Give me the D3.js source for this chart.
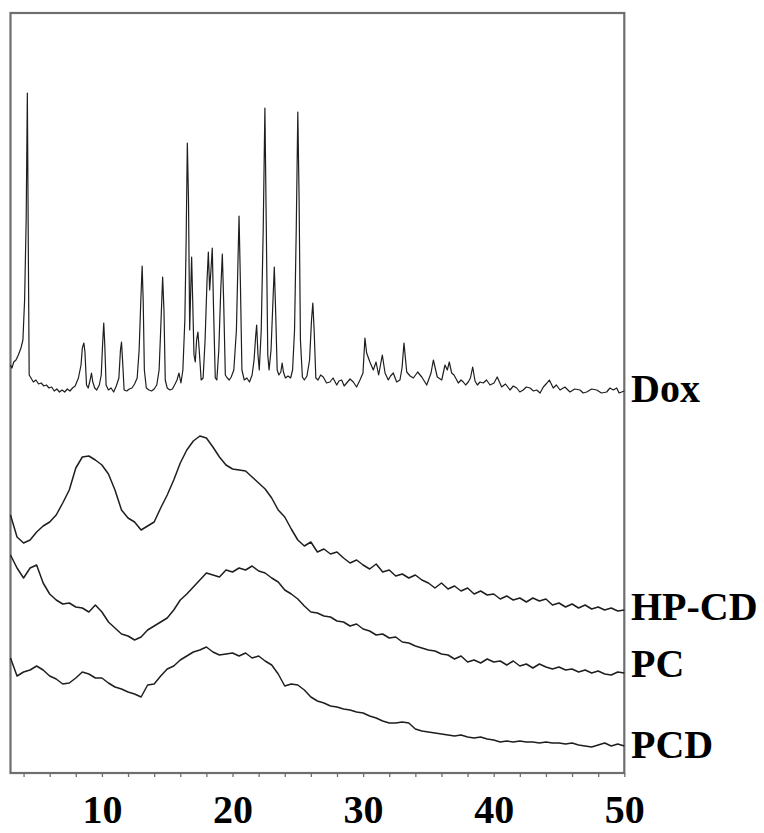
<!DOCTYPE html>
<html>
<head>
<meta charset="utf-8">
<script src="https://cdn.jsdelivr.net/npm/d3@7"></script>
<style>
  html, body { margin: 0; padding: 0; background: #fff; }
  svg { display: block; }
</style>
</head>
<body>
<svg id="chart" width="764" height="833"></svg>
<script>
// ---------------- DATA ----------------
// 2θ (degrees) grid for the amorphous patterns
const twoTheta = [
  3.0,3.5,4.0,4.5,5.0,5.5,6.0,6.5,7.0,7.5,
  8.0,8.5,9.0,9.5,10.0,10.5,11.0,11.5,12.0,12.5,
  13.0,13.5,14.0,14.5,15.0,15.5,16.0,16.5,17.0,17.5,
  18.0,18.5,19.0,19.5,20.0,20.5,21.0,21.5,22.0,22.5,
  23.0,23.5,24.0,24.5,25.0,25.5,26.0,26.5,27.0,27.5,
  28.0,28.5,29.0,29.5,30.0,30.5,31.0,31.5,32.0,32.5,
  33.0,33.5,34.0,34.5,35.0,35.5,36.0,36.5,37.0,37.5,
  38.0,38.5,39.0,39.5,40.0,40.5,41.0,41.5,42.0,42.5,
  43.0,43.5,44.0,44.5,45.0,45.5,46.0,46.5,47.0,47.5,
  48.0,48.5,49.0,49.5,50.0
];
// intensities (a.u., stacked with offsets as in the figure)
const hpcdIntensity = [
  258,236,230,233,241,247,251,258,270,283,
  305,316,317,313,308,299,283,263,255,251,
  243,247,251,265,278,293,310,323,332,337,
  335,326,316,308,304,303,302,296,290,284,
  275,263,256,244,233,227,231,221,224,219,
  221,215,210,213,208,204,209,201,203,197,
  199,195,198,193,190,185,190,184,187,182,
  185,179,182,178,179,174,177,173,175,171,
  175,172,174,168,170,166,169,165,168,164,
  166,163,165,162,163
];
const pcIntensity = [
  218,205,195,205,208,190,179,173,169,170,
  166,165,161,168,161,151,145,139,137,133,
  136,143,147,151,155,163,173,179,186,193,
  200,198,196,203,201,205,203,207,202,200,
  195,191,183,179,174,167,161,160,157,156,
  152,151,147,149,144,142,138,139,135,136,
  131,130,127,125,123,122,119,118,114,117,
  111,113,110,114,111,112,108,112,107,109,
  105,109,106,104,106,103,104,101,103,100,
  102,99,98,101,100
];
const pcdIntensity = [
  115,97,101,103,107,103,97,94,89,90,
  95,101,99,95,95,90,86,84,81,79,
  76,88,89,97,104,107,113,117,121,123,
  126,121,118,119,120,117,120,115,117,112,
  108,99,87,89,88,83,76,72,70,67,
  66,64,63,61,60,57,55,52,50,50,
  51,50,44,42,41,40,39,38,37,38,
  36,35,36,34,33,31,32,31,32,31,
  31,30,31,30,30,29,30,28,27,26,
  28,30,27,29,27
];
// crystalline Dox pattern
const doxTheta = [
  3.00,3.11,3.25,3.42,3.60,3.80,3.95,4.08,4.20,4.29,4.37,4.43,4.57,4.75,4.95,5.15,5.35,5.55,5.75,5.95,
  6.15,6.35,6.55,6.75,6.95,7.15,7.35,7.55,7.75,7.95,8.20,8.40,8.50,8.62,8.70,8.82,8.95,9.10,9.20,9.30,
  9.45,9.60,9.80,9.95,10.05,10.14,10.22,10.32,10.50,10.70,10.90,11.10,11.30,11.42,11.50,11.58,11.70,11.90,12.10,12.30,
  12.50,12.70,12.85,12.98,13.08,13.16,13.25,13.40,13.60,13.80,14.00,14.20,14.38,14.50,14.65,14.75,14.85,15.00,15.20,15.40,
  15.60,15.75,15.90,16.05,16.20,16.35,16.45,16.54,16.63,16.72,16.80,16.87,16.95,17.05,17.15,17.25,17.35,17.45,17.60,17.75,
  17.90,18.05,18.15,18.25,18.35,18.45,18.55,18.68,18.80,18.95,19.10,19.22,19.32,19.45,19.60,19.75,19.90,20.10,20.30,20.42,
  20.50,20.60,20.72,20.90,21.10,21.30,21.50,21.65,21.78,21.85,21.95,22.05,22.20,22.35,22.48,22.58,22.70,22.80,22.95,23.10,
  23.20,23.30,23.42,23.55,23.70,23.80,23.90,24.05,24.25,24.45,24.60,24.75,24.88,25.00,25.10,25.20,25.35,25.50,25.70,25.90,
  26.05,26.15,26.25,26.38,26.55,26.75,26.95,27.20,27.46,27.70,27.98,28.15,28.36,28.55,28.74,29.00,29.25,29.50,29.76,29.99,
  30.14,30.27,30.52,30.78,30.99,31.19,31.47,31.68,31.93,32.10,32.31,32.57,32.82,32.98,33.13,33.34,33.60,33.85,34.18,34.49,
  34.87,35.20,35.38,35.68,36.02,36.27,36.45,36.60,36.78,36.96,37.29,37.50,37.67,37.85,38.05,38.22,38.39,38.57,38.75,38.95,
  39.20,39.45,39.72,40.02,40.27,40.61,40.90,41.25,41.50,41.76,42.00,42.26,42.50,42.78,43.05,43.29,43.55,43.80,44.08,44.26,
  44.56,44.80,45.08,45.45,45.84,46.20,46.61,46.85,47.12,47.50,47.89,48.25,48.65,48.90,49.16,49.42,49.60,49.80,50.00
];
const doxIntensity = [
  408,405,411,413,418,425,433,473,553,680,513,398,395,391,393,389,390,387,388,385,
  386,382,384,381,383,381,384,382,385,387,395,408,425,430,421,388,385,393,400,391,
  385,383,388,398,428,450,428,388,383,385,381,387,395,423,431,413,383,382,384,385,
  389,395,423,473,507,473,403,385,383,382,384,388,403,443,496,463,393,385,383,384,
  389,393,400,390,403,453,533,630,573,443,483,516,473,418,411,433,441,423,393,395,
  433,493,521,483,503,525,463,395,393,423,483,519,473,398,395,393,396,403,443,513,
  557,493,403,393,395,391,398,413,438,448,418,403,443,543,665,553,418,403,423,473,
  506,463,403,398,401,410,401,395,397,395,403,443,543,661,573,433,396,393,397,413,
  453,470,443,395,393,398,396,390,391,395,388,392,393,387,390,394,391,386,393,400,
  435,420,411,403,411,398,418,400,393,397,400,391,393,405,430,401,397,395,401,396,
  388,400,413,396,393,408,403,411,400,398,390,393,391,388,391,395,406,392,388,391,
  390,393,388,390,396,386,389,383,387,385,381,383,386,385,382,383,380,386,390,393,
  385,388,383,386,381,384,383,380,381,384,383,380,381,385,383,385,380,381,382
];
const seriesNames = ["Dox", "HP-CD", "PC", "PCD"];
const minorTicks = [4,6,8,10,12,14,16,18,20,22,24,26,28,30,32,34,36,38,40,42,44,46,48,50];
const majorTicks = [10,20,30,40,50];

// ---------------- CHART ----------------
const svg = d3.select("#chart");
const x = d3.scaleLinear().domain([3, 50]).range([10.5, 624.3]);
const y = d3.scaleLinear().domain([0, 760]).range([773, 13]);

const line = d3.line().x(d => x(d[0])).y(d => y(d[1]));

// frame
svg.append("rect")
  .attr("x", x(3)).attr("y", y(760))
  .attr("width", x(50) - x(3)).attr("height", y(0) - y(760))
  .attr("fill", "none").attr("stroke", "#6e6e6e").attr("stroke-width", 2.2);

// minor ticks
const axMinor = svg.append("g").attr("transform", `translate(0,${y(0)})`)
  .call(d3.axisBottom(x).tickValues(minorTicks).tickSize(4).tickFormat(""));
axMinor.select(".domain").remove();
axMinor.selectAll("line").attr("stroke", "#6e6e6e").attr("stroke-width", 1.3);

// major labels
const axMajor = svg.append("g").attr("transform", `translate(0,${y(0)})`)
  .call(d3.axisBottom(x).tickValues(majorTicks).tickSize(0).tickFormat(d3.format("d")));
axMajor.select(".domain").remove();
axMajor.selectAll("text")
  .attr("y", 50).attr("dy", 0)
  .attr("fill", "#000")
  .style("font-family", "'Liberation Serif', 'Times New Roman', serif")
  .style("font-weight", "bold")
  .style("font-size", "40px");

// series
const series = [
  { name: seriesNames[0], pts: doxTheta.map((t, i) => [t, doxIntensity[i]]), w: 1.2 },
  { name: seriesNames[1], pts: twoTheta.map((t, i) => [t, hpcdIntensity[i]]), w: 1.5 },
  { name: seriesNames[2], pts: twoTheta.map((t, i) => [t, pcIntensity[i]]), w: 1.5 },
  { name: seriesNames[3], pts: twoTheta.map((t, i) => [t, pcdIntensity[i]]), w: 1.5 }
];
svg.append("g").selectAll("path").data(series).join("path")
  .attr("d", d => line(d.pts))
  .attr("fill", "none")
  .attr("stroke", "#1e1e1e")
  .attr("stroke-width", d => d.w)
  .attr("stroke-linejoin", "round");

// labels at right
const labelBaselines = [402, 620, 677, 758];
svg.append("g").selectAll("text").data(series).join("text")
  .attr("x", 631)
  .attr("y", (d, i) => labelBaselines[i])
  .text(d => d.name)
  .attr("fill", "#000")
  .style("font-family", "'Liberation Serif', 'Times New Roman', serif")
  .style("font-weight", "bold")
  .style("font-size", "40px");
</script>
</body>
</html>
